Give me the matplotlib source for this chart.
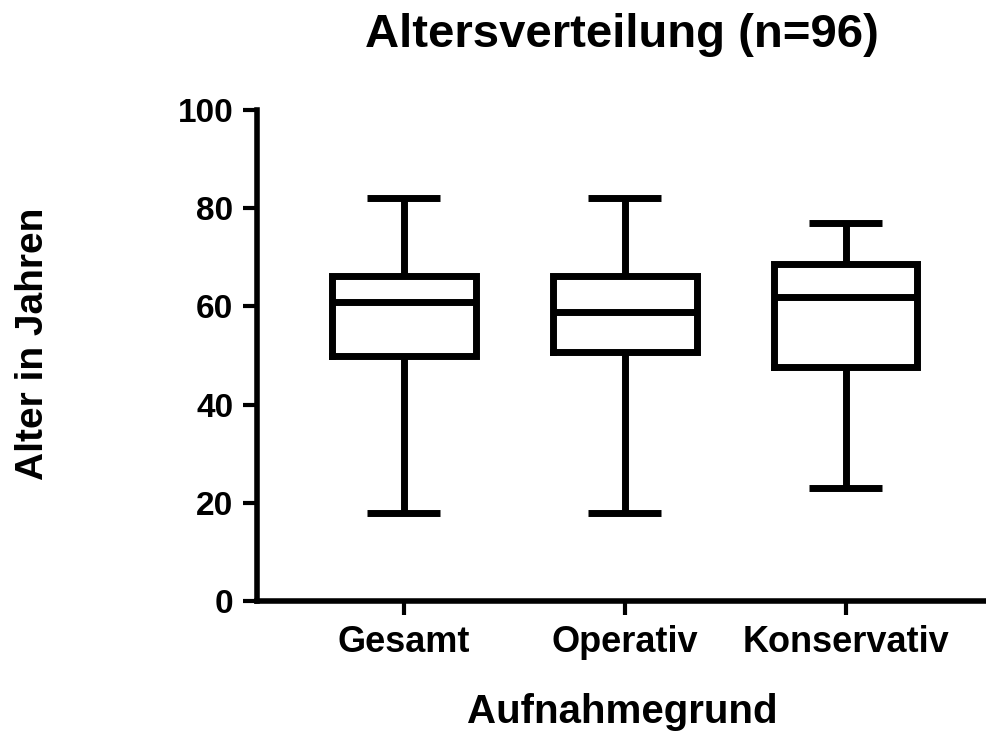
import matplotlib
matplotlib.use("Agg")
import matplotlib.pyplot as plt

# Werte
gruppen = ["Gesamt", "Operativ", "Konservativ"]
minimum = [18, 18, 23]
q1 = [49.9, 50.7, 47.7]
median = [60.9, 58.8, 61.9]
q3 = [66.2, 66.2, 68.6]
maximum = [82, 82, 77]

plt.rcParams['font.family'] = ['Liberation Sans', 'DejaVu Sans']
plt.rcParams['font.weight'] = 'bold'

fig = plt.figure(figsize=(9.87, 7.33), dpi=100)
ax = fig.add_axes([0.2604, 0.18, 0.7396, 0.67])

stats = []
for i, name in enumerate(gruppen):
    stats.append({
        'label': name,
        'whislo': minimum[i],
        'q1': q1[i],
        'med': median[i],
        'q3': q3[i],
        'whishi': maximum[i],
        'fliers': [],
    })

lw = 5
ax.bxp(stats, positions=[1, 2, 3], widths=0.65, capwidths=0.33,
       showfliers=False,
       boxprops=dict(color='black', linewidth=lw, solid_joinstyle='miter'),
       medianprops=dict(color='black', linewidth=lw, solid_capstyle='butt'),
       whiskerprops=dict(color='black', linewidth=lw, solid_capstyle='butt'),
       capprops=dict(color='black', linewidth=lw, solid_capstyle='butt'))

ax.set_xlim(0.335, 3.64)
ax.set_ylim(0, 100)
ax.set_yticks([0, 20, 40, 60, 80, 100])

for side in ['top', 'right']:
    ax.spines[side].set_visible(False)
for side in ['left', 'bottom']:
    ax.spines[side].set_linewidth(4)
ax.spines['bottom'].set_capstyle('projecting')

ax.tick_params(axis='both', width=3, length=10)
ax.tick_params(axis='y', labelsize=24, pad=7)
ax.tick_params(axis='x', labelsize=26, pad=7)
ax.set_xticklabels(gruppen, fontsize=26, fontweight='bold')
for t in ax.get_yticklabels():
    t.set_fontweight('bold')

ax.set_ylabel('Alter in Jahren', fontsize=28, fontweight='bold')
ax.yaxis.set_label_coords(-0.282, 0.523)
ax.set_xlabel('Aufnahmegrund', fontsize=29, fontweight='bold', va='baseline')
ax.xaxis.set_label_coords(0.5, -0.248)
ax.set_title('Altersverteilung (n=96)', fontsize=34, fontweight='bold', pad=45)

fig.savefig('out.png', dpi=100)
